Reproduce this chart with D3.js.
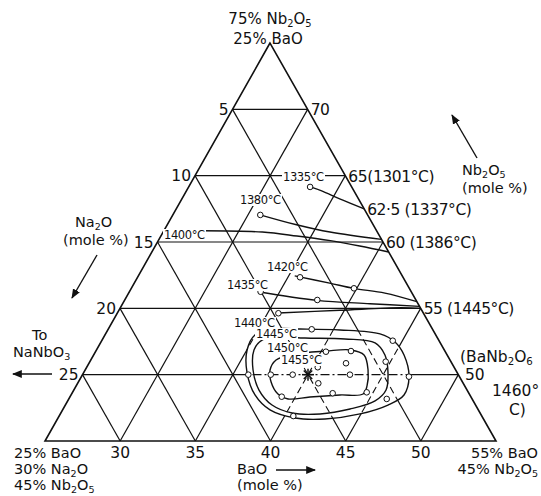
<!DOCTYPE html>
<html>
<head>
<meta charset="utf-8">
<script src="https://cdn.jsdelivr.net/npm/d3@7"></script>
<style>
  body { margin: 0; background: #fff; }
  text { font-family: "DejaVu Sans", sans-serif; fill: #111; }
</style>
</head>
<body>
<svg id="chart" width="541" height="496"></svg>
<script>
// Liquidus section of the BaO–Na2O–Nb2O5 system near BaNb2O6.
// Every composition is given as [BaO mole %, Nb2O5 mole %]; Na2O is the rest.

const baoTicks   = [30, 35, 40, 45, 50];          // along the base (Nb2O5 = 45 %)
const nb2o5Lines = [50, 55, 60, 65, 70];          // horizontal lines, Nb2O5 constant
const na2oTicks  = [5, 10, 15, 20, 25];           // along the left edge (BaO = 25 %)
const edgePoints = [                              // BaO–Nb2O5 binary edge
  { nb: 70,   text: "70" },
  { nb: 65,   text: "65(1301°C)" },
  { nb: 62.5, text: "62·5 (1337°C)" },
  { nb: 60,   text: "60 (1386°C)" },
  { nb: 55,   text: "55 (1445°C)" }
];

// open isotherms, ending on the binary edge
const iso1335 = [[33.1, 64.15], [34.0, 63.85], [35.5, 63.25], [37.5, 62.5]];
const iso1380 = [[30.8, 62.05], [33.6, 61.3], [36.1, 60.75], [39.8, 60.2]];
const iso1400 = [[27.6, 60.85], [31.6, 60.75], [34.05, 60.45], [36.45, 60.1], [38.6, 59.7], [40.75, 59.25]];
const iso1420 = [[35.4, 57.45], [38.0, 56.9], [39.8, 56.5], [42.05, 56.15], [44.5, 55.5]];
const iso1435 = [[33.55, 56.25], [37.8, 55.6], [41.45, 55.35], [44.85, 55.15]];
const iso1440 = [[35.7, 54.65], [39.7, 54.85], [43.6, 55.05], [45.0, 55.0]];

// closed isotherms around the maximum
const iso1445 = [[37.75, 53.44], [40.45, 53.37], [43.26, 53.07], [44.56, 52.46], [45.65, 51.48],
                 [46.81, 49.82], [47.15, 48.47], [46.46, 47.71], [44.94, 47.04], [42.80, 46.66],
                 [40.77, 46.73], [38.80, 47.34], [37.24, 48.47], [35.84, 50.20], [35.02, 51.86],
                 [34.98, 52.99], [36.09, 53.44]];
const iso1450 = [[38.42, 52.76], [41.12, 52.69], [43.27, 52.39], [44.38, 51.48], [45.22, 50.20],
                 [45.77, 48.84], [45.45, 48.02], [44.09, 47.41], [42.28, 47.04], [40.38, 47.11],
                 [38.75, 47.71], [37.32, 48.84], [36.17, 50.35], [35.48, 51.86], [35.64, 52.61],
                 [36.72, 52.84]];
const iso1455 = [[40.31, 51.78], [41.93, 51.86], [42.99, 51.48], [43.82, 50.35], [44.35, 49.15],
                 [44.39, 48.54], [42.89, 48.47], [40.97, 48.32], [39.59, 48.17], [38.73, 48.54],
                 [37.82, 49.45], [37.30, 50.35], [37.32, 51.11], [38.36, 51.56]];

// compositions that were melted
const samples = [[33.08, 64.15], [30.82, 62.04], [35.81, 57.34], [39.81, 56.51], [33.73, 56.25],
                 [37.81, 55.63], [35.72, 54.63], [38.54, 53.42], [40.33, 51.73], [40.37, 50.56],
                 [36.03, 50.0], [37.52, 50.0], [38.98, 50.0], [42.79, 50.0], [46.79, 49.85],
                 [42.10, 50.86], [41.97, 51.78], [44.36, 52.56], [44.68, 50.98], [41.01, 49.35],
                 [42.34, 48.60], [44.57, 48.67], [46.15, 48.17], [39.08, 48.34], [40.58, 46.88]];
const maximum = [40, 50];

const isoLabels = [
  { t: "1335°C", x: 283, y: 181 }, { t: "1380°C", x: 240, y: 204 },
  { t: "1400°C", x: 164, y: 239 }, { t: "1420°C", x: 267, y: 271 },
  { t: "1435°C", x: 227, y: 289 }, { t: "1440°C", x: 234, y: 327 },
  { t: "1445°C", x: 256, y: 338 }, { t: "1450°C", x: 267, y: 352 },
  { t: "1455°C", x: 281, y: 364 }
];

// ---- scales ------------------------------------------------------------
const yScale = d3.scaleLinear().domain([45, 75]).range([441, 43]);   // Nb2O5 -> y
const xLeft  = d3.scaleLinear().domain([45, 75]).range([45, 270]);   // left edge x at a given Nb2O5
const xRun   = d3.scaleLinear().domain([0, 30]).range([0, 451]);     // BaO above 25 %
const P = (b, nb) => [xLeft(nb) + xRun(b - 25), yScale(nb)];

const svg = d3.select("#chart");
const ink = "#111";

function richText(g, x, y, str, size, anchor) {
  const t = g.append("text").attr("x", x).attr("y", y)
    .attr("font-size", size).attr("text-anchor", anchor || "start");
  let low = false;
  str.split(/(_\d)/).forEach(p => {
    if (!p) return;
    if (p[0] === "_") {
      t.append("tspan").attr("dy", low ? 0 : 2.5).attr("font-size", size * 0.66).text(p.slice(1));
      low = true;
    } else {
      t.append("tspan").attr("dy", low ? -2.5 : 0).text(p);
      low = false;
    }
  });
  return t;
}

const open = d3.line().x(d => P(d[0], d[1])[0]).y(d => P(d[0], d[1])[1]).curve(d3.curveCatmullRom);
const closed = d3.line().x(d => P(d[0], d[1])[0]).y(d => P(d[0], d[1])[1]).curve(d3.curveCatmullRomClosed);

// ---- grid --------------------------------------------------------------
function drawGrid(g) {
  const seg = (a, b) => g.append("line")
    .attr("x1", a[0]).attr("y1", a[1]).attr("x2", b[0]).attr("y2", b[1]);
  nb2o5Lines.forEach(v => {
    const l = seg(P(25, v), P(100 - v, v));
    if (v === 50) l.attr("class", "base50");
  });
  baoTicks.forEach(b => seg(P(b, 45), P(b, 100 - b)));
  na2oTicks.forEach(n => seg(P(55 - n, 45), P(25, 75 - n)));
}
drawGrid(svg.append("g").attr("stroke", ink).attr("stroke-width", 1.2));

// inside the outer isotherm the guide lines are broken
svg.append("defs").append("clipPath").attr("id", "inner")
  .append("path").attr("d", closed(iso1445));
svg.append("path").attr("d", closed(iso1445)).attr("fill", "#fff");
const broken = svg.append("g").attr("clip-path", "url(#inner)")
  .attr("stroke", ink).attr("stroke-width", 1.1).attr("stroke-dasharray", "7,4");
drawGrid(broken);
broken.selectAll("line.base50").attr("stroke-dasharray", "9,3,2,3");

// triangle
svg.append("path")
  .attr("d", d3.line()([P(25, 75), P(25, 45), P(55, 45)]) + "Z")
  .attr("fill", "none").attr("stroke", ink).attr("stroke-width", 1.6);

// ---- isotherms ---------------------------------------------------------
const curves = svg.append("g").attr("fill", "none").attr("stroke", ink).attr("stroke-width", 1.4);
[iso1335, iso1380, iso1400, iso1420, iso1435, iso1440].forEach(c => curves.append("path").attr("d", open(c)));
[iso1445, iso1450, iso1455].forEach(c => curves.append("path").attr("d", closed(c)));

// sample points
svg.append("g").selectAll("circle").data(samples).join("circle")
  .attr("cx", d => P(d[0], d[1])[0]).attr("cy", d => P(d[0], d[1])[1]).attr("r", 2.8)
  .attr("fill", "#fff").attr("stroke", ink).attr("stroke-width", 1);

// maximum
const m = P(maximum[0], maximum[1]);
const star = svg.append("g").attr("stroke", ink).attr("stroke-width", 1.5);
[0, 45, 90, 135].forEach(a => {
  const r = 6, t = a * Math.PI / 180;
  star.append("line").attr("x1", m[0] - r * Math.cos(t)).attr("y1", m[1] - r * Math.sin(t))
    .attr("x2", m[0] + r * Math.cos(t)).attr("y2", m[1] + r * Math.sin(t));
});

// ---- isotherm labels with white backing --------------------------------
const lab = svg.append("g");
isoLabels.forEach(l => {
  const t = lab.append("text").attr("x", l.x).attr("y", l.y).attr("font-size", 11.5)
    .attr("letter-spacing", -0.4).text(l.t);
  const bb = t.node().getBBox();
  lab.insert("rect", "text").attr("x", bb.x - 1).attr("y", bb.y + 1)
    .attr("width", bb.width + 2).attr("height", bb.height - 2).attr("fill", "#fff");
});

// ---- axis labels -------------------------------------------------------
const txt = svg.append("g");
const fs = 15.5, fsStack = 14.5;
na2oTicks.forEach(n => {
  const p = P(25, 75 - n);
  txt.append("text").attr("x", p[0] - 4).attr("y", p[1] + 5.5).attr("text-anchor", "end")
    .attr("font-size", fs).text(n);
});
edgePoints.forEach(e => {
  const p = P(100 - e.nb, e.nb);
  txt.append("text").attr("x", p[0] + 3).attr("y", p[1] + 6).attr("font-size", fs)
    .attr("letter-spacing", -0.4).text(e.text);
});
baoTicks.forEach(b => {
  const p = P(b, 45);
  txt.append("text").attr("x", p[0]).attr("y", p[1] + 17).attr("text-anchor", "middle")
    .attr("font-size", fs).text(b);
});

richText(txt, 270, 24, "75% Nb_2O_5", fsStack + 0.5, "middle");
richText(txt, 268, 44, "25% BaO", fsStack + 0.5, "middle");

richText(txt, 460, 362, "(BaNb_2O_6", fs);
txt.append("text").attr("x", 465).attr("y", 380).attr("font-size", fs).text("50");
txt.append("text").attr("x", 492).attr("y", 396).attr("font-size", fs).text("1460°");
txt.append("text").attr("x", 509).attr("y", 415).attr("font-size", fs).text("C)");

richText(txt, 14, 458, "25% BaO", fsStack);
richText(txt, 14, 474, "30% Na_2O", fsStack);
richText(txt, 14, 490, "45% Nb_2O_5", fsStack);
richText(txt, 538, 458, "55% BaO", fsStack, "end");
richText(txt, 538, 474, "45% Nb_2O_5", fsStack, "end");

richText(txt, 237, 474, "BaO", fsStack);
txt.append("text").attr("x", 237).attr("y", 490).attr("font-size", fsStack).text("(mole %)");

richText(txt, 462, 175, "Nb_2O_5", fsStack);
txt.append("text").attr("x", 462).attr("y", 193).attr("font-size", fsStack).text("(mole %)");

richText(txt, 75, 227, "Na_2O", fsStack);
txt.append("text").attr("x", 63).attr("y", 245).attr("font-size", fsStack).text("(mole %)");

txt.append("text").attr("x", 32).attr("y", 340).attr("font-size", fsStack).text("To");
richText(txt, 13, 357, "NaNbO_3", fsStack);

// ---- arrows ------------------------------------------------------------
svg.select("defs").append("marker").attr("id", "head")
  .attr("viewBox", "0 0 10 10").attr("refX", 9).attr("refY", 5)
  .attr("markerWidth", 7).attr("markerHeight", 7).attr("orient", "auto")
  .append("path").attr("d", "M0,1 L10,5 L0,9 Z").attr("fill", ink);
const arrows = [[[477, 158], [452, 115]], [[97, 255], [72, 298]], [[52, 374], [13, 374]], [[276, 470], [315, 470]]];
arrows.forEach(a => svg.append("line")
  .attr("x1", a[0][0]).attr("y1", a[0][1]).attr("x2", a[1][0]).attr("y2", a[1][1])
  .attr("stroke", ink).attr("stroke-width", 1.4).attr("marker-end", "url(#head)"));
</script>
</body>
</html>
